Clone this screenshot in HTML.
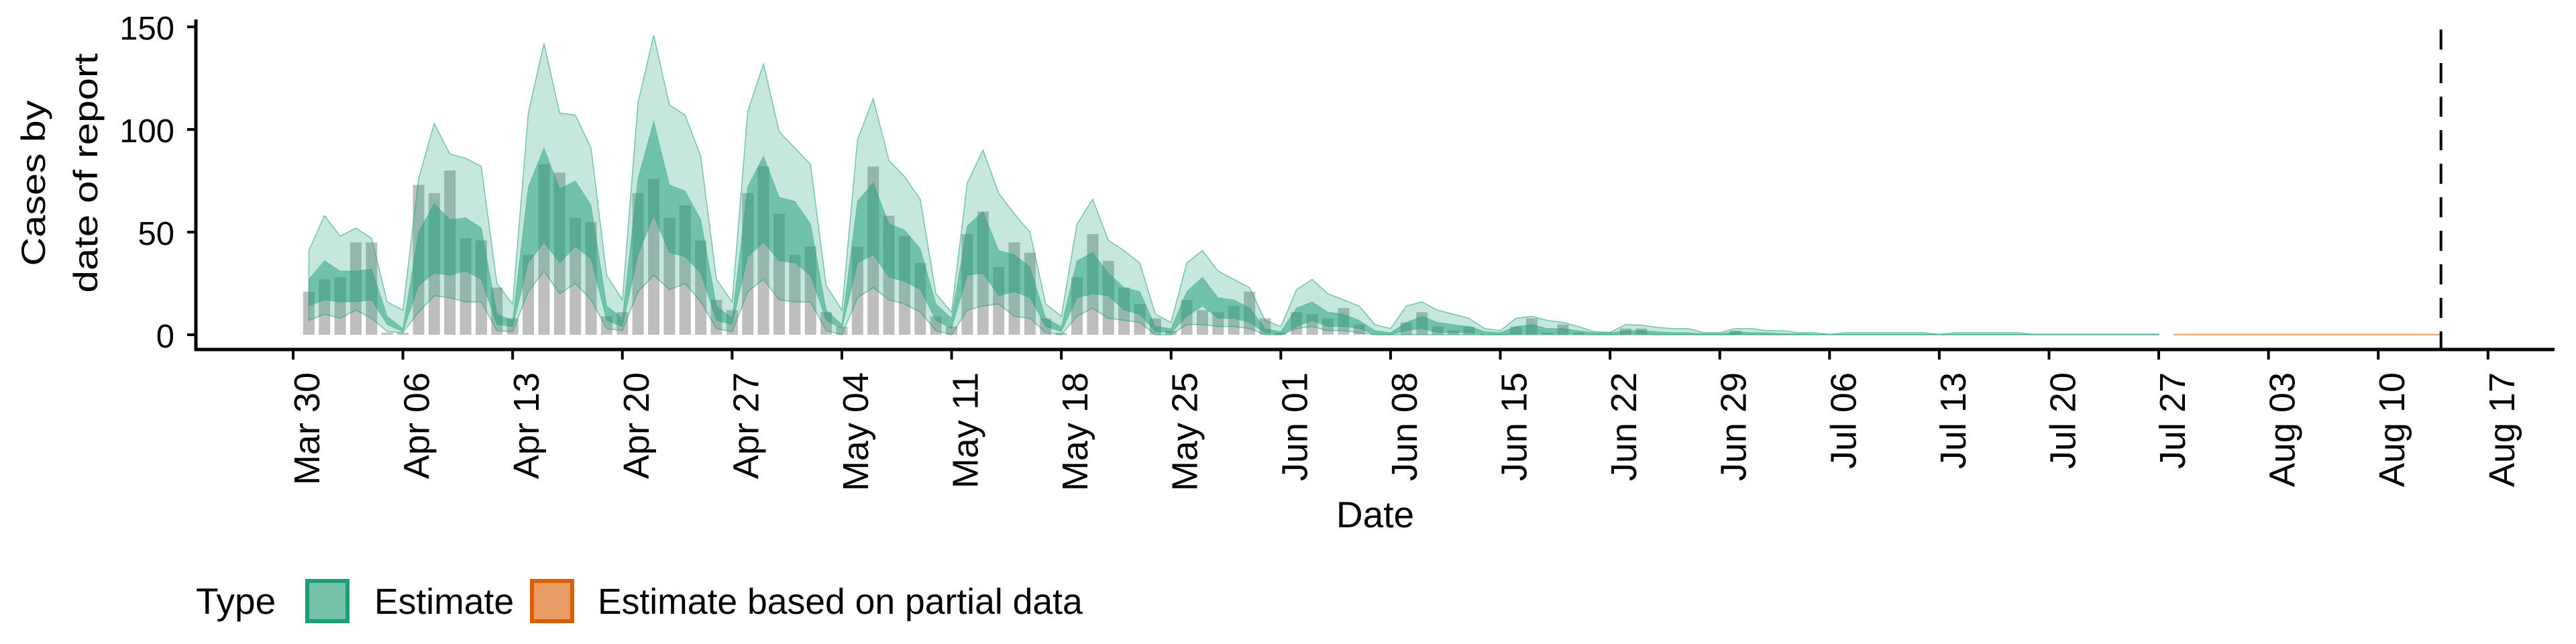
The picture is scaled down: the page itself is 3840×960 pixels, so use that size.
<!DOCTYPE html>
<html><head><meta charset="utf-8">
<style>
html,body{margin:0;padding:0;background:#fff;}
svg{display:block;font-family:"Liberation Sans",Arial,sans-serif;}
</style></head>
<body>
<svg id="chart" width="3840" height="960" viewBox="0 0 3840 960" xmlns="http://www.w3.org/2000/svg">
  <g id="bars"></g>
  <g id="bands"></g>
  <g id="axes"></g>
  <text transform="translate(67,273) rotate(-90)" text-anchor="middle" font-size="50" textLength="247" lengthAdjust="spacingAndGlyphs" fill="#000">Cases by</text>
  <text transform="translate(145,258) rotate(-90)" text-anchor="middle" font-size="50" textLength="357" lengthAdjust="spacingAndGlyphs" fill="#000">date of report</text>
  <text x="2050" y="786" text-anchor="middle" font-size="55" fill="#000">Date</text>
  <g>
    <text x="292" y="915" font-size="55" fill="#000">Type</text>
    <rect x="458" y="866" width="60" height="60" fill="#74c3a8" stroke="#1b9e77" stroke-width="6"/>
    <text x="558" y="915" font-size="53.5" fill="#000">Estimate</text>
    <rect x="793" y="866" width="60" height="60" fill="#e89c63" stroke="#d95f02" stroke-width="6"/>
    <text x="891" y="915" font-size="53.5" fill="#000">Estimate based on partial data</text>
  </g>
</svg>
<script>
// Days from Mar 31 to Jul 27 (119 days)
const bars = [21,27,28,45,45,1,1, 73,69,80,47,46,23,8, 39,83,79,57,55,9,11, 69,76,57,63,46,17,12, 69,82,59,39,43,11,4, 43,82,58,48,35,9,4, 49,60,33,45,40,8,1, 28,49,36,23,15,8,2, 17,12,11,14,21,8,1, 11,10,8,13,5,0,0, 6,11,4,2,4,0,0, 4,8,1,5,1,0,0, 3,3,0,0,0,0,0, 2,
  0,0,0,0,0,0,0,0,0,0,0,0,0,0,0,0,0,0,0,0,0,0,0,0,0,0,0];
const outerUpper = [41,58,48,52,47,16,12, 76,103,88,86,82,25,15, 108,142,108,107,91,29,17, 113,146,112,107,87,27,16, 109,132,99,91,83,24,12, 95,115,85,77,66,20,11, 74,90,69,59,50,15,9, 54,66,46,41,35,10,6, 35,41,31,27,23,7,4, 22,27,20,17,14,5,3, 14,16,12,10,8,3,2, 8,9,7,6,4,1.5,1.2, 5,4.7,3.6,3,3,1,1, 3,
  3,2,2,1,1,0.2,1,1,1,1,1,1,0.2,1,1,1,1,1,0.3,0.3,0.3,0.3,0.3,0.3,0.3,0.3,0.3];
const innerUpper = [27,36,31,31,32,9,3, 50,64,56,57,52,10,7, 72,91,71,75,63,14,8, 76,104,73,70,56,14,8, 72,87,67,65,54,12,5, 65,74,54,51,42,15,8, 53,60,41,39,33,8,4, 36,40,30,23,21,4,3, 21,28,18,17,13,3,1.5, 13,16,11,10,7,2,1, 6,9,6,5,4,1.5,1, 4,5,3,3,2,1,1, 2,2,1.5,1,1,0.5,0.5, 1.5,
  1,1,0.5,0.5,0.3,0.1,0.3,0.3,0.3,0.3,0.3,0.3,0.1,0.3,0.3,0.3,0.3,0.3,0.1,0.1,0.1,0.1,0.1,0.1,0.1,0.1,0.1];
const innerLower = [14,17,16,16,17,5,1.5, 24,30,29,31,27,5,4, 35,45,35,43,37,7,4, 39,58,40,38,30,7,5, 38,45,36,35,29,7,3, 35,39,28,26,22,7,3, 29,30,19,21,18,4,1.5, 18,20,19,12,10,1.5,1, 9,14,8,8,6,1,0, 4,7,4,4,3,0,0, 2,3,1,1,1,0,0, 0.5,0.5,0.5,0.5,0.5,0,0, 0.5,0.5,0,0,0,0,0, 0,
  0,0,0,0,0,0,0,0,0,0,0,0,0,0,0,0,0,0,0,0,0,0,0,0,0,0,0];
const outerLower = [7,10,8,12,8,1.5,1, 11,19,18,16,16,2,1.5, 21,31,20,25,17,3,2, 21,29,22,25,16,3,1.5, 21,27,17,16,16,2,0, 18,23,17,15,11,2,0, 12,14,15,9,8,1,0, 9,13,8,7,6,0,0, 5,5,4,4,3,0,0, 3,4,2,2,1,0,0, 0,0,0,0,0,0,0, 0,0,0,0,0,0,0, 0,0,0,0,0,0,0, 0,
  0,0,0,0,0,0,0,0,0,0,0,0,0,0,0,0,0,0,0,0,0,0,0,0,0,0,0];
// Partial-data estimates Jul 28 - Aug 14 (18 days)
const partialUpper = [0.1,0.1,0.1,0.1,0.1,0.1,0.1,0.1,0.1,0.1,0.1,0.1,0.1,0.1,0.1,0.1,0.1,0.1];
const partialLower = [0,0,0,0,0,0,0,0,0,0,0,0,0,0,0,0,0,0];
const yTicks = [0,50,100,150];
const xTickLabels = ["Mar 30","Apr 06","Apr 13","Apr 20","Apr 27","May 04","May 11","May 18","May 25","Jun 01","Jun 08","Jun 15","Jun 22","Jun 29","Jul 06","Jul 13","Jul 20","Jul 27","Aug 03","Aug 10","Aug 17"];
const forecastDay = 137; // Aug 14, days since Mar 30

const NS = "http://www.w3.org/2000/svg";
const X0 = 437, DX = 23.37, Y0 = 499, YS = 459 / 150;
const xs = d => X0 + d * DX;          // d = days since Mar 30
const ys = v => Y0 - v * YS;
function mk(tag, attrs, parent){ const e=document.createElementNS(NS,tag); for(const k in attrs) e.setAttribute(k,attrs[k]); parent.appendChild(e); return e; }

const gBars = document.getElementById('bars');
bars.forEach((v,i)=>{
  if (v <= 0) return;
  const r = mk('rect',{x:xs(i+1)-8.5,y:ys(v),width:17,height:v*YS,fill:'#bebebe'},gBars);
  
  
});

function bandPath(up, lo, off){
  let p = '';
  up.forEach((v,i)=>{ p += (i?'L':'M') + xs(i+off).toFixed(1) + ',' + ys(v).toFixed(1); });
  for (let i=lo.length-1;i>=0;i--) p += 'L' + xs(i+off).toFixed(1) + ',' + ys(lo[i]).toFixed(1);
  return p + 'Z';
}
const gB = document.getElementById('bands');
const ob = mk('path',{d:bandPath(outerUpper,outerLower,1),fill:'#1b9e77','fill-opacity':0.25,stroke:'#1b9e77','stroke-opacity':0.55,'stroke-width':1.5},gB);


const ib = mk('path',{d:bandPath(innerUpper,innerLower,1),fill:'#1b9e77','fill-opacity':0.5,stroke:'#1b9e77','stroke-opacity':0.4,'stroke-width':1},gB);


const pb = mk('path',{d:bandPath(partialUpper,partialLower,bars.length+1),fill:'#d95f02','fill-opacity':0.25,stroke:'#d95f02','stroke-opacity':0.55,'stroke-width':2},gB);



const gA = document.getElementById('axes');
const yl = mk('line',{x1:292,y1:29,x2:292,y2:523,stroke:'#000','stroke-width':5},gA);


const xl = mk('line',{x1:290,y1:521,x2:3808,y2:521,stroke:'#000','stroke-width':5},gA);


yTicks.forEach(v=>{
  mk('line',{x1:279,y1:ys(v),x2:292,y2:ys(v),stroke:'#000','stroke-width':4},gA);
  const t = mk('text',{x:260,y:ys(v)+19,'text-anchor':'end','font-size':49,fill:'#000'},gA);
  t.textContent = v;
  
  
});
xTickLabels.forEach((lab,i)=>{
  const x = xs(i*7);
  mk('line',{x1:x,y1:521,x2:x,y2:536,stroke:'#000','stroke-width':4},gA);
  const t = mk('text',{transform:`translate(${x+39},555) rotate(-90)`,'text-anchor':'end','font-size':54,fill:'#000'},gA);
  t.textContent = lab;
  
  
});
const fl = mk('line',{x1:xs(forecastDay),y1:44,x2:xs(forecastDay),y2:521,stroke:'#000','stroke-width':4,'stroke-dasharray':'30 20'},gA);


</script>
</body></html>
